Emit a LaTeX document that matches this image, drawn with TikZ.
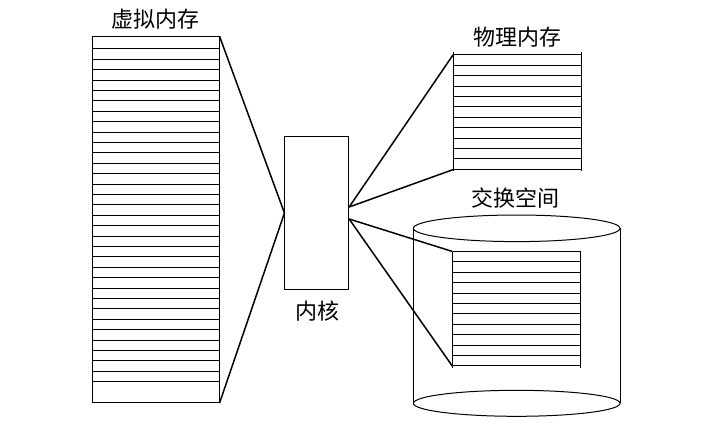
\documentclass[tikz,border=0pt]{standalone}
\usepackage{fontspec}
\newfontfamily\cjk{Noto Sans CJK SC}
\begin{document}
\begin{tikzpicture}[x=1pt,y=-1pt,
  frame/.style={draw, line width=1pt, inner sep=0pt},
  ghost/.style={inner sep=0pt},
  rowline/.style={line width=1pt},
  link/.style={line width=1.5pt},
  lbl/.style={font=\cjk\fontsize{22}{26}\selectfont, inner sep=0pt}]
\useasboundingbox (0,0) rectangle (722,437);
% virtual memory
\node[frame, minimum width=127pt, minimum height=366pt] (vm) at (155.5,219.7) {};
\foreach \i in {0,...,32}
  \draw[rowline] ([yshift={-12.6-10.4*\i}]vm.north west) -- ([yshift={-12.6-10.4*\i}]vm.north east);
\node[lbl] (vmlbl) at (155,19) {虚拟内存};
% kernel
\node[frame, minimum width=63.7pt, minimum height=152.6pt] (kern) at (316.8,213) {};
\node[lbl] (kernlbl) at (317,311) {内核};
\coordinate (kup) at ([yshift=6pt]kern.east);
\coordinate (kdn) at ([yshift=-6pt]kern.east);
% physical memory
\node[ghost, minimum width=128pt, minimum height=114.4pt] (pm) at (517.3,112.2) {};
\draw[rowline] ([yshift=2.5pt]pm.north west) -- ([yshift=-1pt]pm.south west);
\draw[rowline] ([yshift=2.5pt]pm.north east) -- ([yshift=-1pt]pm.south east);
\foreach \i in {0,...,11}
  \draw[rowline] ([yshift={-10.4*\i}]pm.north west) -- ([yshift={-10.4*\i}]pm.north east);
\node[lbl] (pmlbl) at (517,37) {物理内存};
% swap cylinder
\coordinate (ctop) at (516.7,228.3);
\coordinate (cbot) at (516.7,403.3);
\draw[line width=1pt] (ctop) ellipse [x radius=103.3pt, y radius=13.3pt];
\draw[line width=1pt] (cbot) ellipse [x radius=103.3pt, y radius=13pt];
\draw[line width=1pt] ([xshift=-103.3pt]ctop) -- ([xshift=-103.3pt]cbot);
\draw[line width=1pt] ([xshift=103.3pt]ctop) -- ([xshift=103.3pt]cbot);
\node[lbl] (swlbl) at (515,198) {交换空间};
% swap box
\node[ghost, minimum width=128pt, minimum height=114.4pt] (sw) at (516.7,308.9) {};
\draw[rowline] (sw.north west) -- ([yshift=-2pt]sw.south west);
\draw[rowline] (sw.north east) -- ([yshift=-2pt]sw.south east);
\foreach \i in {0,...,11}
  \draw[rowline] ([yshift={-10.4*\i}]sw.north west) -- ([yshift={-10.4*\i}]sw.north east);
% connectors
\draw[link] (vm.north east) -- (kern.west);
\draw[link] (vm.south east) -- (kern.west);
\draw[link] (kup) -- (pm.north west);
\draw[link] (kup) -- (pm.south west);
\draw[link] (kdn) -- (sw.north west);
\draw[link] (kdn) -- (sw.south west);
\end{tikzpicture}
\end{document}
